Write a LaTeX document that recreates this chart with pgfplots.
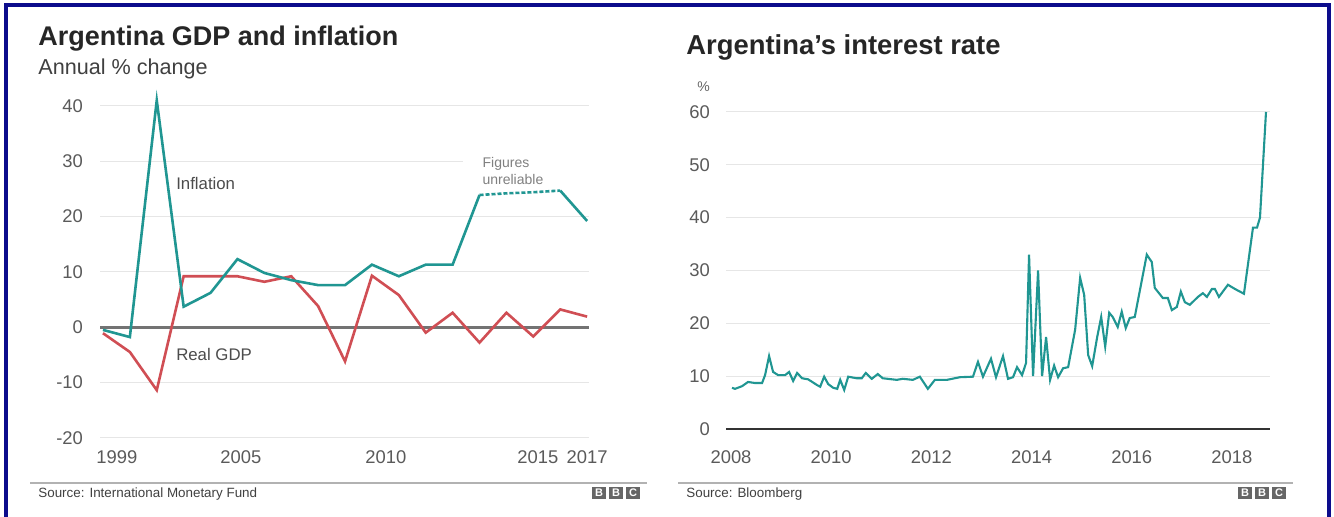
\documentclass[border=0pt]{standalone}
\usepackage{fontspec}
\setmainfont{Liberation Sans}
\usepackage{pgfplots}
\pgfplotsset{compat=1.18}
\definecolor{teal1}{RGB}{32,150,146}
\definecolor{redl}{RGB}{208,78,84}
\definecolor{navyb}{RGB}{12,12,140}
\definecolor{gridc}{RGB}{230,230,230}
\definecolor{tickc}{RGB}{90,90,90}
\begin{document}
\begin{tikzpicture}[x=0.5pt,y=0.5pt]
\path[fill=white] (0,0) rectangle (1334,517);
\useasboundingbox (0,0) rectangle (1334,517);
% frame
\fill[navyb] (4,0) rectangle (8,514);
\fill[navyb] (4,510) rectangle (1331,514);
\fill[navyb] (1327,0) rectangle (1331,514);
% titles
\node[anchor=base west, inner sep=0, font=\fontsize{13.5}{16}\selectfont\bfseries, text=black!85] at (38,471) {Argentina GDP and inflation};
\node[anchor=base west, inner sep=0, font=\fontsize{10.8}{13}\selectfont, text=black!75] at (38,442) {Annual \% change};
\node[anchor=base west, inner sep=0, font=\fontsize{13.7}{16}\selectfont\bfseries, text=black!85] at (686,462) {Argentina’s interest rate};
\node[anchor=base west, inner sep=0, font=\fontsize{7}{8}\selectfont, text=black!60] at (697,425) {\%};
% footers
\draw[line width=1pt, black!30] (30,34) -- (647,34);
\draw[line width=1pt, black!30] (678,34) -- (1293,34);
\node[anchor=base west, inner sep=0, font=\fontsize{6.7}{8}\selectfont, text=black!75] at (38,19) {Source: International Monetary Fund};
\node[anchor=base west, inner sep=0, font=\fontsize{6.7}{8}\selectfont, text=black!75] at (686,19) {Source: Bloomberg};
\foreach \xo in {592,1238}{
  \foreach \i/\l in {0/B,1/B,2/C}{
    \fill[black!60] (\xo+\i*17,18) rectangle ++(14,12);
    \node[text=white, inner sep=0, font=\fontsize{5.5}{6}\selectfont\bfseries] at (\xo+\i*17+7,24) {\l};
  }
}
% left chart
\begin{axis}[at={(50pt,39.65pt)}, anchor=south west, scale only axis,
  width=244.5pt, height=165.85pt,
  xmin=-0.11, xmax=18.07, ymin=-20, ymax=40,
  axis line style={draw=none}, major tick length=0,
  ytick={-20,-10,0,10,20,30,40}, yticklabels={-20,-10,0,10,20,30,40},
  xtick={0.52,5.13,10.52,16.17,18.0}, xticklabels={1999,2005,2010,2015,2017},
  ymajorgrids, grid style={gridc, line width=0.5pt},
  tick label style={font=\fontsize{9.2}{10}\selectfont, text=tickc},
  xticklabel style={yshift=-3pt}, yticklabel style={xshift=-5pt},
  clip=false]
\fill[white] (axis cs:13.4,28.8) rectangle (axis cs:18.1,31.2);
\draw[black!55, line width=1.5pt] (axis cs:-0.11,0) -- (axis cs:18.07,0);
\addplot[redl, line width=1.3pt] coordinates {
(0,-1.1)(1,-4.5)(2,-11.4)(3,9.2)(4,9.2)(5,9.2)(6,8.2)(7,9.2)(8,3.8)(9,-6.2)
(10,9.3)(11,5.8)(12,-1.0)(13,2.6)(14,-2.8)(15,2.6)(16,-1.7)(17,3.2)(18,1.9)};
\addplot[teal1, line width=1.3pt] coordinates {
(0,-0.5)(1,-1.8)(2,41)(3,3.7)(4,6.2)(5,12.3)(6,9.8)(7,8.5)(8,7.6)(9,7.6)
(10,11.3)(11,9.2)(12,11.3)(13,11.3)(14,23.9)};
\addplot[teal1, line width=1.3pt, dash pattern=on 2pt off 1pt] coordinates {
(14,23.9)(15,24.2)(16,24.4)(17,24.7)};
\addplot[teal1, line width=1.3pt] coordinates {(17,24.7)(18,19.2)};
\node[anchor=west, inner sep=0, font=\fontsize{8.4}{10}\selectfont, text=black!70] at (axis cs:2.71,25.9) {Inflation};
\node[anchor=west, inner sep=0, font=\fontsize{8.4}{10}\selectfont, text=black!70] at (axis cs:2.71,-4.9) {Real GDP};
\node[anchor=west, inner sep=0, align=left, font=\fontsize{7}{8.5}\selectfont, text=black!50] at (axis cs:14.1,28.2) {Figures\\unreliable};
\end{axis}
% right chart
\begin{axis}[at={(363pt,44pt)}, anchor=south west, scale only axis,
  width=272pt, height=158.5pt,
  xmin=2007.90, xmax=2018.76, ymin=0, ymax=60,
  axis line style={draw=none}, major tick length=0,
  ytick={0,10,20,30,40,50,60}, yticklabels={0,10,20,30,40,50,60},
  xtick={2008,2010,2012,2014,2016,2018}, xticklabels={2008,2010,2012,2014,2016,2018},
  ymajorgrids, grid style={gridc, line width=0.5pt},
  tick label style={font=\fontsize{9.2}{10}\selectfont, text=tickc},
  xticklabel style={yshift=-7.5pt}, yticklabel style={xshift=-4.5pt},
  clip=false]
\draw[black!80, line width=1pt] (axis cs:2007.90,0) -- (axis cs:2018.76,0);
\addplot[teal1, line width=1.05pt] coordinates {
(2008.02,7.8)(2008.08,7.6)(2008.22,8.1)(2008.34,8.9)(2008.48,8.7)(2008.62,8.7)
(2008.68,10.2)(2008.76,13.8)(2008.84,10.8)(2008.94,10.2)(2009.08,10.2)(2009.16,10.8)
(2009.24,9.1)(2009.32,10.6)(2009.42,9.6)(2009.54,9.4)(2009.72,8.3)(2009.78,8.0)
(2009.86,9.9)(2009.94,8.5)(2010.04,7.8)(2010.12,7.6)(2010.18,9.3)(2010.26,7.4)
(2010.34,9.9)(2010.51,9.6)(2010.61,9.6)(2010.69,10.6)(2010.81,9.5)(2010.93,10.4)
(2011.03,9.6)(2011.31,9.3)(2011.43,9.5)(2011.63,9.3)(2011.77,9.9)(2011.93,7.6)
(2012.07,9.3)(2012.31,9.3)(2012.57,9.8)(2012.83,9.9)(2012.93,12.7)(2013.03,9.9)
(2013.19,13.3)(2013.29,9.8)(2013.43,13.8)(2013.53,9.5)(2013.63,9.8)(2013.71,11.7)
(2013.81,10.2)(2013.89,12.5)(2013.95,33)(2014.03,10)(2014.13,30)(2014.21,10)
(2014.29,17.4)(2014.37,9.3)(2014.45,12)(2014.53,9.8)(2014.63,11.5)(2014.73,11.7)
(2014.87,18.8)(2014.97,28.6)(2015.05,25.4)(2015.13,14)(2015.21,11.9)(2015.31,17.4)
(2015.39,21.2)(2015.47,15.6)(2015.55,22)(2015.62,21.2)(2015.72,19.3)(2015.80,22.2)
(2015.88,19.1)(2015.96,21)(2016.06,21.2)(2016.30,33)(2016.40,31.6)(2016.46,26.7)
(2016.62,24.8)(2016.72,24.8)(2016.80,22.5)(2016.90,23.1)(2016.98,26)(2017.06,24)
(2017.16,23.5)(2017.32,25)(2017.42,25.7)(2017.50,25)(2017.60,26.5)(2017.66,26.5)
(2017.74,25)(2017.92,27.3)(2018.06,26.5)(2018.24,25.6)(2018.42,38.1)(2018.50,38.1)
(2018.56,40)(2018.68,60)};
\end{axis}
\end{tikzpicture}
\end{document}
